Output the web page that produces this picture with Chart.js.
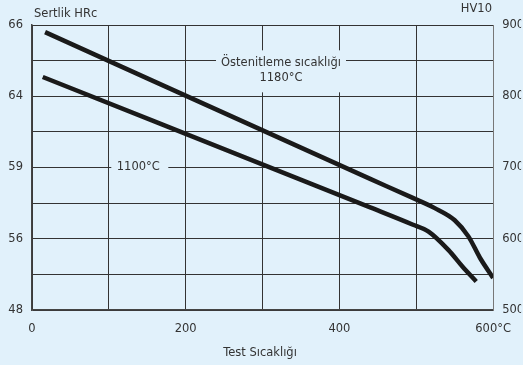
<!DOCTYPE html>
<html>
<head>
<meta charset="utf-8">
<script src="https://cdn.jsdelivr.net/npm/chart.js@4"></script>
<style>
  html, body { margin: 0; padding: 0; background: #e1f1fb; }
  #wrap { width: 523px; height: 365px; }
</style>
</head>
<body>
<div id="wrap"><canvas id="chart" width="523" height="365"></canvas></div>
<script>
// data: temperature (°C) vs hardness (HV10)
const temp1180 = [17, 440, 494, 524, 550, 568, 583, 600];
const hv1180   = [890, 684, 658, 643, 626, 603, 573, 545];
const temp1100 = [14, 440, 495, 516, 542, 560, 578];
const hv1100   = [827, 644, 620, 610, 584, 561, 540];

const hvTicks  = [900, 800, 700, 600, 500];
const hrcTicks = ["66", "64", "59", "56", "48"];
const tempTicks = [0, 200, 400, 600];
const tempTickLabels = ["0", "200", "400", "600°C"];

const bg = "#e1f1fb";
const ink = "#333333";
const font = "'DejaVu Sans', Verdana, sans-serif";
const fontSize = 11.5;

function toPoints(xs, ys) {
  return xs.map((x, i) => ({ x: x, y: ys[i] }));
}

const decor = {
  id: "decor",
  beforeDraw(chart) {
    const ctx = chart.ctx;
    ctx.save();
    ctx.fillStyle = bg;
    ctx.fillRect(0, 0, chart.width, chart.height);
    ctx.restore();
  },
  beforeDatasetsDraw(chart) {
    const ctx = chart.ctx;
    const x = chart.scales.x, y = chart.scales.y;
    ctx.save();
    ctx.font = fontSize + "px " + font;
    ctx.textAlign = "center";
    ctx.textBaseline = "middle";

    // austenitizing temperature notes, each on a box that hides the grid
    let cx = x.getPixelForValue(324), cy = y.getPixelForValue(835);
    ctx.fillStyle = bg;
    ctx.fillRect(cx - 65, cy - 21, 130, 42);
    ctx.fillStyle = ink;
    ctx.fillText("Östenitleme sıcaklığı", cx, cy - 8);
    ctx.fillText("1180°C", cx, cy + 7);

    cx = x.getPixelForValue(137); cy = y.getPixelForValue(700);
    ctx.fillStyle = bg;
    ctx.fillRect(cx - 26, cy - 24, 57, 42);
    ctx.fillStyle = ink;
    ctx.fillText("1100°C", cx + 1, cy);
    ctx.restore();
  },
  afterDraw(chart) {
    const ctx = chart.ctx;
    ctx.save();
    ctx.font = fontSize + "px " + font;
    ctx.fillStyle = ink;
    ctx.textBaseline = "middle";
    ctx.textAlign = "left";
    ctx.fillText("Sertlik HRc", 34, 14);
    ctx.textAlign = "right";
    ctx.fillText("HV10", 492, 9);
    ctx.textAlign = "center";
    ctx.fillText("Test Sıcaklığı", 260, 353);
    ctx.restore();
  }
};

const lineStyle = {
  borderColor: "#1a1a1a",
  borderWidth: 4.5,
  pointRadius: 0,
  cubicInterpolationMode: "monotone",
  yAxisID: "y"
};

new Chart(document.getElementById("chart"), {
  type: "line",
  data: {
    datasets: [
      Object.assign({ label: "1180°C", data: toPoints(temp1180, hv1180) }, lineStyle),
      Object.assign({ label: "1100°C", data: toPoints(temp1100, hv1100) }, lineStyle)
    ]
  },
  options: {
    responsive: false,
    animation: false,
    layout: { padding: { top: 25, left: 0, right: 0, bottom: 0 } },
    plugins: { legend: { display: false }, tooltip: { enabled: false } },
    scales: {
      x: {
        type: "linear",
        min: 0,
        max: 600,
        afterFit(s) { s.height = 55; },
        afterBuildTicks(s) {
          s.ticks = [0, 100, 200, 300, 400, 500, 600].map(v => ({ value: v }));
        },
        ticks: {
          autoSkip: false,
          maxRotation: 0,
          padding: 12,
          color: ink,
          font: { family: font, size: fontSize },
          callback(v) {
            const i = tempTicks.indexOf(v);
            return i >= 0 ? tempTickLabels[i] : "";
          }
        },
        grid: { color: ink, lineWidth: 1, drawTicks: false },
        border: { color: "#444", width: 1.5 }
      },
      y: {
        position: "left",
        min: 500,
        max: 900,
        afterFit(s) { s.width = 32; },
        ticks: {
          stepSize: 50,
          autoSkip: false,
          padding: 9,
          color: ink,
          font: { family: font, size: fontSize },
          callback(v) {
            const i = hvTicks.indexOf(v);
            return i >= 0 ? hrcTicks[i] : "";
          }
        },
        grid: { color: ink, lineWidth: 1, drawTicks: false },
        border: { color: "#444", width: 1.5 }
      },
      y2: {
        position: "right",
        min: 500,
        max: 900,
        afterFit(s) { s.width = 28; },
        ticks: {
          stepSize: 100,
          padding: 9,
          color: ink,
          font: { family: font, size: fontSize },
          callback(v) { return hvTicks.includes(v) ? String(v) : ""; }
        },
        grid: { display: false, drawTicks: false },
        border: { color: "#777", width: 1 }
      }
    }
  },
  plugins: [decor]
});
</script>
</body>
</html>
